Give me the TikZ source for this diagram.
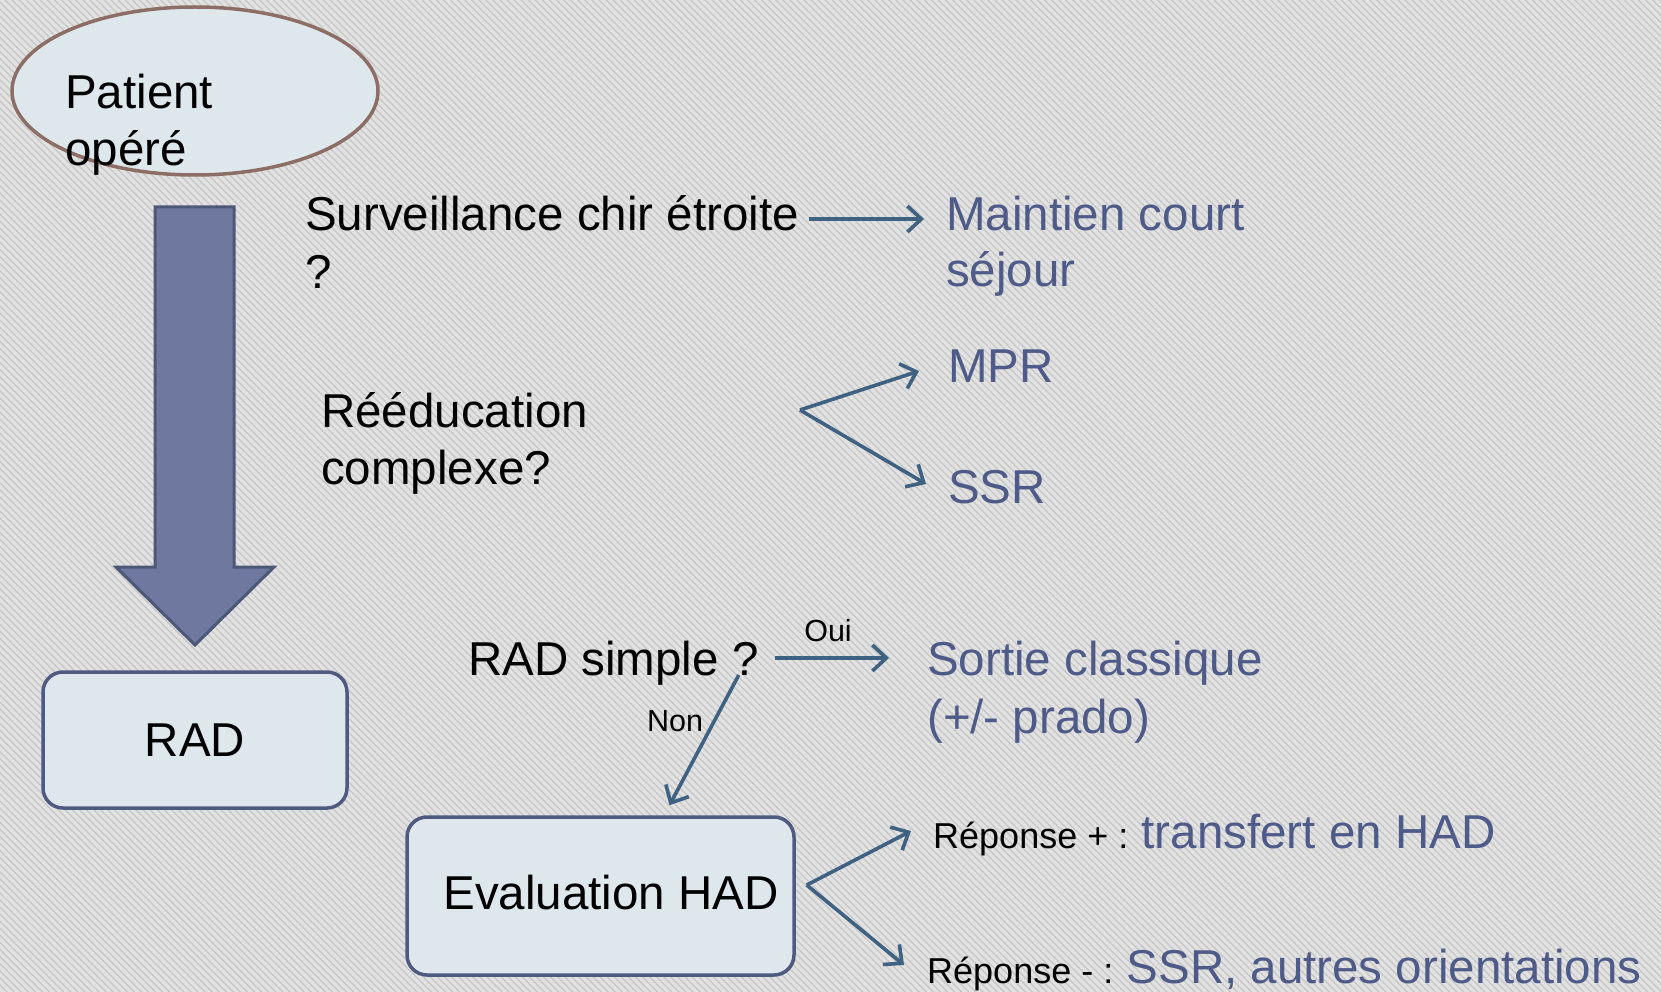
\documentclass[tikz,border=0pt]{standalone}
\usepackage{fontspec}
\setmainfont{Liberation Sans}
\usetikzlibrary{shapes.geometric,arrows.meta,calc,patterns.meta}
\definecolor{bgc}{HTML}{E2E2E2}
\definecolor{stripe}{HTML}{C8C8C8}
\definecolor{boxfill}{HTML}{DEE8EC}
\definecolor{boxline}{HTML}{4F5A80}
\definecolor{ellline}{HTML}{8C6E66}
\definecolor{bigfill}{HTML}{6F79A0}
\definecolor{bigline}{HTML}{4D5878}
\definecolor{txtblue}{HTML}{4E5A88}
\definecolor{arrc}{HTML}{3F6182}
\newcommand{\bigf}{\fontsize{47.5}{57}\selectfont}
\newcommand{\smallf}{\fontsize{30.5}{36}\selectfont}
\newcommand{\repf}{\fontsize{36}{42}\selectfont}
\tikzset{
  txt/.style={anchor=base west, inner sep=0pt, font=\bigf, text=black},
  btxt/.style={anchor=base west, inner sep=0pt, font=\bigf, text=txtblue},
  lbl/.style={anchor=base, inner sep=0pt, font=\smallf, text=black},
  roundbox/.style={draw=boxline, fill=boxfill, line width=3.5pt, rounded corners=20pt, font=\bigf, inner sep=0pt},
  conn/.style={draw=arrc, line width=3.6pt, -{Straight Barb[length=14pt, width=26pt]}}
}
\begin{document}
\begin{tikzpicture}[x=1pt, y=-1pt]
\useasboundingbox (0,0) rectangle (1661,992);
\fill[bgc] (0,0) rectangle (1661,992);
\fill[pattern={Lines[angle=-45, distance=5pt, line width=1.4pt]}, pattern color=stripe] (0,0) rectangle (1661,992);

% Patient opere
\node[ellipse, draw=ellline, fill=boxfill, line width=3.5pt, minimum width=366pt, minimum height=168pt, inner sep=0pt] (pat) at (195,91) {};
\node[txt] (pat1) at (65,109) {Patient};
\node[txt] (pat2) at (65,166) {opéré};

% big arrow
\draw[fill=bigfill, draw=bigline, line width=3pt, line join=miter]
  (155,207) -- (234,207) -- (234,567) -- (274,567) -- (195,645) -- (116,567) -- (155,567) -- cycle;

% RAD box
\node[roundbox, minimum width=304pt, minimum height=136pt] (rad) at (195,740) {RAD};

% Surveillance
\node[txt] (surv1) at (305,231) {Surveillance chir étroite};
\node[txt] (surv2) at (305,288) {?};
\node[btxt] (main1) at (946,231) {Maintien court};
\node[btxt] (main2) at (946,286) {séjour};
\draw[conn] ($(surv1.base east)+(10,-12)$) -- ($(main1.base west)+(-22,-12)$);

% Reeducation
\node[txt] (ree1) at (321,427) {Rééducation};
\node[txt] (ree2) at (321,484) {complexe?};
\coordinate (fork1) at (800,410);
\node[btxt] (mpr) at (948,382) {MPR};
\node[btxt] (ssr) at (948,503) {SSR};
\draw[conn, line join=round] (fork1) -- ($(mpr.base west)+(-29,-11)$);
\draw[conn, line join=round] (fork1) -- ($(ssr.base west)+(-22,-19)$);

% RAD simple
\node[txt] (rs) at (468,675) {RAD simple ?};
\node[btxt] (sort1) at (927,675) {Sortie classique};
\node[btxt] (sort2) at (927,733) {(+/- prado)};
\draw[conn] ($(rs.base east)+(16,-17)$) -- ($(sort1.base west)+(-38,-17)$);
\node[lbl] (oui) at (828,641) {Oui};

% Evaluation HAD
\node[roundbox, minimum width=387pt, minimum height=158pt, text depth=8pt] (eval) at (600.5,896) {\hspace*{21pt}Evaluation HAD};
\draw[conn] ($(rs.base east)+(-20,0)$) -- ($(eval.north)+(69,-10)$);
\node[lbl] (non) at (675,731) {Non};

\coordinate (fork2) at ($(eval.east)+(11,-11)$);
\node[anchor=base west, inner sep=0pt, font=\repf] (rp) at (933,848) {Réponse + : {\bigf\color{txtblue}transfert en HAD}};
\node[anchor=base west, inner sep=0pt, font=\repf] (rm) at (927,983) {Réponse - : {\bigf\color{txtblue}SSR, autres orientations}};
\draw[conn] (fork2) -- ($(rp.base west)+(-22,-17)$);
\draw[conn] (fork2) -- ($(rm.base west)+(-23,-18)$);
\end{tikzpicture}
\end{document}
